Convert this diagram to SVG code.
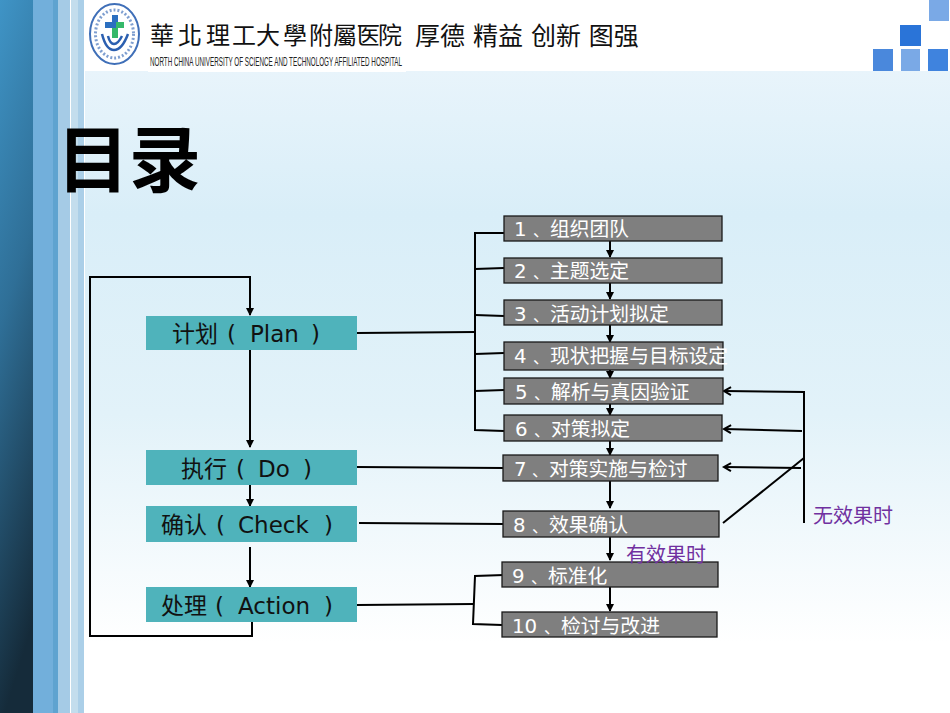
<svg xmlns="http://www.w3.org/2000/svg" width="950" height="713" viewBox="0 0 950 713">
<style>
text{font-family:"DejaVu Sans","Noto Sans CJK SC",sans-serif}
.s{fill:#7f7f7f;stroke:#1a1a1a;stroke-width:1.3}
.sl{fill:#fff;font-size:19.8px}
.d{font-size:16px}
.p{fill:#4fb3bb}
.pl{fill:#111;font-size:23px}
.c{fill:none;stroke:#000;stroke-width:2}
.pu{fill:#7030a0;font-size:20px}
</style>
<defs>
<linearGradient id="bg" x1="0" y1="0" x2="0" y2="1"><stop offset="0" stop-color="#e8f4fb"/><stop offset=".25" stop-color="#d9eef8"/><stop offset=".6" stop-color="#e2f2f9"/><stop offset="1" stop-color="#fff"/></linearGradient>
<linearGradient id="dk" x1="0" y1="0" x2=".15" y2="1"><stop offset="0" stop-color="#3f94c6"/><stop offset=".45" stop-color="#2f6f97"/><stop offset="1" stop-color="#152b3a"/></linearGradient>
<marker id="a" markerWidth="9" markerHeight="9" refX="7" refY="4" orient="auto" markerUnits="userSpaceOnUse"><path d="M0 0L8 4L0 8Z" fill="#000"/></marker>
<marker id="o" markerWidth="12" markerHeight="10" refX="8" refY="5" orient="auto" markerUnits="userSpaceOnUse"><path d="M1 1L8 5L1 9" fill="none" stroke="#000" stroke-width="2"/></marker>
</defs>
<rect width="950" height="713" fill="#fff"/>
<rect x="85" y="71" width="865" height="572" fill="url(#bg)"/>
<rect width="33" height="713" fill="url(#dk)"/>
<rect x="33" width="20" height="713" fill="#72afdb"/>
<rect x="53" width="5" height="713" fill="#5fa3d0"/>
<rect x="58" width="12" height="713" fill="#a5cbe6"/>
<rect x="71" width="7" height="713" fill="#c3dded"/>
<rect x="78" width="6" height="713" fill="#abcfe8"/>
<g id="logo">
<ellipse cx="114.5" cy="34" rx="24.5" ry="30" fill="#fff" stroke="#3f6fb8" stroke-width="2"/>
<ellipse cx="114.5" cy="34" rx="19" ry="24" fill="none" stroke="#7f9fd0" stroke-width="3" stroke-dasharray="2 2"/>
<rect x="112" y="15" width="6" height="22" fill="#2b6fc0"/>
<rect x="105" y="22" width="9" height="6" fill="#2b6fc0"/>
<rect x="116" y="22" width="8" height="6" fill="#35b86a"/>
<rect x="112" y="28" width="6" height="10" fill="#35b86a"/>
<path d="M102 34Q106 50 114 50Q122 50 128 34M108 36Q110 44 114 44Q118 44 122 36" fill="none" stroke="#2b5fb0" stroke-width="2.5"/>
</g>
<rect x="148" y="0" width="258" height="72" fill="#fff"/>
<text y="44" x="150 178 206 232 256 283 309 333 356 378" font-size="24" fill="#111" style="font-family:'Noto Sans CJK TC',sans-serif">華北理工大學附屬医院</text>
<text x="150" y="66" font-size="12.5" fill="#222" textLength="252" lengthAdjust="spacingAndGlyphs" style="font-family:'Liberation Sans',sans-serif">NORTH CHINA UNIVERSITY OF SCIENCE AND TECHNOLOGY  AFFILIATED HOSPITAL</text>
<text x="415" y="45" font-size="25" fill="#111">厚德 精益 创新 图强</text>
<g id="squares">
<rect x="929" y="0" width="20" height="21" fill="#7aa9e6"/>
<rect x="900" y="25" width="21" height="21" fill="#2a74d8"/>
<rect x="873" y="49" width="20" height="22" fill="#4a88dc"/>
<rect x="901" y="49" width="19" height="22" fill="#7aa9e6"/>
<rect x="928" y="49" width="20" height="22" fill="#3f83de"/>
</g>
<text x="57" y="186" font-size="72" font-weight="700" fill="#000" style="font-family:'Noto Sans CJK SC',sans-serif">目录</text>
<g id="connectors">
<path class="c" d="M252 622V636H90V277H250V315" marker-end="url(#a)"/>
<path class="c" d="M250 350V447" marker-end="url(#a)"/>
<path class="c" d="M250 485V506" marker-end="url(#a)"/>
<path class="c" d="M250 547V587" marker-end="url(#a)"/>
<path class="c" d="M357 333L475 332"/>
<path class="c" d="M357 467L503 468"/>
<path class="c" d="M359 523L503 524"/>
<path class="c" d="M357 605L474 604"/>
<path class="c" d="M504 233H475V430L504 431"/>
<path class="c" d="M475 269L504 268"/>
<path class="c" d="M475 315L504 316"/>
<path class="c" d="M475 354L504 353"/>
<path class="c" d="M475 391L504 390"/>
<path class="c" d="M504 575L475 576L473 624L502 625"/>
<path class="c" d="M610 241V257" marker-end="url(#a)"/>
<path class="c" d="M610 283V299" marker-end="url(#a)"/>
<path class="c" d="M610 325V342" marker-end="url(#a)"/>
<path class="c" d="M610 370V378" marker-end="url(#a)"/>
<path class="c" d="M610 404V415" marker-end="url(#a)"/>
<path class="c" d="M610 441V455" marker-end="url(#a)"/>
<path class="c" d="M610 481V508" marker-end="url(#a)"/>
<path class="c" d="M610 537V560" marker-end="url(#a)"/>
<path class="c" d="M610 587V611" marker-end="url(#a)"/>
<path class="c" d="M723 523L804 458"/>
<path class="c" d="M804 523V392L724 391" marker-end="url(#o)"/>
<path class="c" d="M802 431L724 429" marker-end="url(#o)"/>
<path class="c" d="M801 468L724 467" marker-end="url(#o)"/>
</g>
<g id="n-plan"><rect class="p" x="146" y="316" width="211" height="34"/><text class="pl" y="342"><tspan x="172">计划</tspan><tspan x="227">(</tspan><tspan x="250">Plan</tspan><tspan x="311">)</tspan></text></g>
<g id="n-do"><rect class="p" x="146" y="450" width="211" height="35"/><text class="pl" y="477"><tspan x="181">执行</tspan><tspan x="236">(</tspan><tspan x="258">Do</tspan><tspan x="303">)</tspan></text></g>
<g id="n-check"><rect class="p" x="146" y="506" width="211" height="36"/><text class="pl" y="533"><tspan x="161">确认</tspan><tspan x="216">(</tspan><tspan x="238">Check</tspan><tspan x="324">)</tspan></text></g>
<g id="n-action"><rect class="p" x="146" y="587" width="211" height="35"/><text class="pl" y="614"><tspan x="161">处理</tspan><tspan x="215">(</tspan><tspan x="238">Action</tspan><tspan x="324">)</tspan></text></g>
<g id="s1"><rect class="s" x="504" y="216" width="218" height="25"/><text class="sl" y="236"><tspan x="514">1</tspan><tspan class="d" x="533">、</tspan><tspan x="550">组织团队</tspan></text></g>
<g id="s2"><rect class="s" x="504" y="258" width="218" height="25"/><text class="sl" y="278"><tspan x="514">2</tspan><tspan class="d" x="533">、</tspan><tspan x="550">主题选定</tspan></text></g>
<g id="s3"><rect class="s" x="504" y="300" width="218" height="25"/><text class="sl" y="321"><tspan x="514">3</tspan><tspan class="d" x="533">、</tspan><tspan x="550">活动计划拟定</tspan></text></g>
<g id="s4"><rect class="s" x="504" y="342" width="219" height="28"/><text class="sl" y="363"><tspan x="514">4</tspan><tspan class="d" x="533">、</tspan><tspan x="550">现状把握与目标设定</tspan></text></g>
<g id="s5"><rect class="s" x="504" y="378" width="219" height="26"/><text class="sl" y="399"><tspan x="515">5</tspan><tspan class="d" x="534">、</tspan><tspan x="551">解析与真因验证</tspan></text></g>
<g id="s6"><rect class="s" x="504" y="415" width="218" height="26"/><text class="sl" y="436"><tspan x="515">6</tspan><tspan class="d" x="534">、</tspan><tspan x="551">对策拟定</tspan></text></g>
<g id="s7"><rect class="s" x="503" y="455" width="215" height="26"/><text class="sl" y="476"><tspan x="514">7</tspan><tspan class="d" x="532">、</tspan><tspan x="549">对策实施与检讨</tspan></text></g>
<g id="s8"><rect class="s" x="503" y="511" width="216" height="26"/><text class="sl" y="532"><tspan x="513">8</tspan><tspan class="d" x="532">、</tspan><tspan x="549">效果确认</tspan></text></g>
<g id="s9"><rect class="s" x="502" y="562" width="216" height="25"/><text class="sl" y="583"><tspan x="512">9</tspan><tspan class="d" x="531">、</tspan><tspan x="548">标准化</tspan></text></g>
<g id="s10"><rect class="s" x="502" y="612" width="215" height="25"/><text class="sl" y="633"><tspan x="512">10</tspan><tspan class="d" x="544">、</tspan><tspan x="561">检讨与改进</tspan></text></g>
<text class="pu" x="813" y="523">无效果时</text>
<text class="pu" x="626" y="562">有效果时</text>
</svg>
